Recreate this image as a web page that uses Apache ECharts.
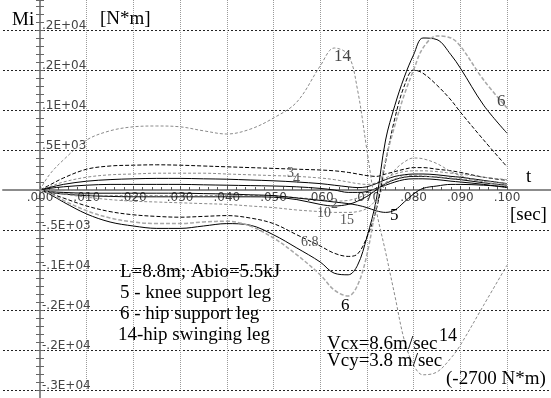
<!DOCTYPE html>
<html><head><meta charset="utf-8">
<script src="https://cdn.jsdelivr.net/npm/echarts@6/dist/echarts.min.js"></script>
<style>html,body{margin:0;padding:0;background:#fff}#c{width:551px;height:398px}</style>
</head><body><div id="c"></div>
<script>
// time samples [sec]
const tSec = [0,.002,.005,.01,.015,.02,.025,.03,.035,.04,.045,.05,.055,.06,.063,.066,.068,.07,.072,.074,.076,.078,.08,.082,.085,.088,.09,.095,.1];
// moments [N*m]
const m14 = [0,190,375,625,740,790,800,790,740,700,760,900,1100,1550,1775,1690,1250,500,-250,-775,-1325,-1875,-2190,-2310,-2275,-2100,-1940,-1440,-940];
const m6a = [0,-40,-130,-260,-350,-400,-420,-420,-400,-390,-450,-600,-810,-1060,-1250,-1325,-1190,-810,-190,375,810,1190,1500,1775,1925,1900,1800,1375,1025];
const m6b = [0,-50,-150,-300,-400,-450,-480,-480,-450,-420,-440,-560,-725,-900,-1040,-1060,-940,-590,-125,625,1060,1410,1690,1900,1880,1690,1525,1060,710];
const m8  = [0,-40,-100,-200,-270,-310,-330,-340,-330,-320,-350,-420,-560,-700,-790,-830,-800,-590,-250,350,900,1300,1500,1460,1310,1125,975,625,290];
const m15 = [0,-20,-50,-90,-120,-140,-150,-160,-170,-180,-200,-220,-250,-270,-280,-280,-270,-230,-120,80,250,350,400,390,330,230,180,100,50];
const m5  = [0,-20,-30,-40,-40,-40,-40,-40,-45,-50,-60,-70,-100,-130,-150,-170,-190,-220,-260,-280,-250,-150,-50,20,50,70,70,60,40];
const m1  = [0,60,150,260,300,310,315,310,300,290,280,270,260,250,240,220,200,180,170,200,230,260,280,280,260,240,220,160,120];
const m3  = [0,40,100,160,190,200,210,210,210,200,190,180,170,150,130,100,80,70,90,150,200,230,240,240,230,210,200,160,130];
const m4  = [0,30,70,110,130,140,145,145,140,135,125,115,100,80,60,40,30,40,80,130,170,190,200,200,190,170,160,120,80];
const m7  = [0,20,40,60,70,70,70,70,65,60,55,50,40,20,0,-30,-30,-20,20,60,100,130,140,140,130,110,100,70,30];
const m10 = [0,-30,-50,-70,-80,-85,-85,-85,-85,-85,-85,-90,-120,-180,-200,-180,-140,-80,0,80,130,160,170,170,160,140,130,90,60];
const m2  = [0,-20,-40,-60,-70,-70,-70,-70,-70,-70,-70,-75,-95,-120,-140,-130,-100,-50,20,90,140,170,180,175,165,150,140,110,80];
// tick labels
const xTickLabels = ['.000','.010','.020','.030','.040','.050','.060','.070','.080','.090','.100'];
const yTickValues = [2000,1500,1000,500,-500,-1000,-1500,-2000,-2500];
const yTickLabels = ['.2E+04','.2E+04','.1E+04','.5E+03','-.5E+03','-.1E+04','-.2E+04','-.2E+04','-.3E+04'];
const yMin = -2500, yMax = 2375;

const GRID_TOP = 0, GRID_BOTTOM = 8, H = 398;
const plotH = H - GRID_TOP - GRID_BOTTOM;
const zeroOffset = -plotH * (0 - yMin) / (yMax - yMin); // lift x axis to the zero line

const BLACK = '#000', GRAY = '#8a8a8a', LGRAY = '#a8a8a8';
function ser(arr, color, type, width) {
  return {type:'line', xAxisIndex:0, yAxisIndex:0, symbol:'none', smooth:0.35,
    data: tSec.map((t,i)=>[t, arr[i]]),
    lineStyle:{color:color, width:width||1, type:type||'solid'}, silent:true, animation:false};
}
const serif = '"Liberation Serif", "Times New Roman", serif';
function txt(s, x, y, size, color) {
  return {type:'text', z:100, style:{text:s, x:x, y:y, font: size+'px '+serif, fill:color||'#000', verticalAlign:'middle', align:'left'}};
}
const chart = echarts.init(document.getElementById('c'), null, {renderer:'canvas'});
chart.setOption({
  animation:false,
  grid:[
    {left:40, right:44, top:GRID_TOP, bottom:GRID_BOTTOM},
    {left:3, right:0, top:GRID_TOP, bottom:GRID_BOTTOM}
  ],
  xAxis:[
    {gridIndex:0, type:'value', min:0, max:0.1, interval:0.01, position:'bottom', offset:zeroOffset,
     axisLine:{show:false, onZero:false},
     axisTick:{show:true, inside:true, length:4, lineStyle:{color:'#555'}},
     minorTick:{show:true, splitNumber:5, length:3, lineStyle:{color:'#555'}},
     axisLabel:{margin:2, fontSize:12, fontFamily:'DejaVu Sans', color:'#444',
       formatter:v=>xTickLabels[Math.round(v*100)]||''},
     splitLine:{show:true, lineStyle:{color:'#9a9a9a', type:[1,1], width:1}}},
    {gridIndex:1, type:'value', min:0, max:1,
     axisLine:{show:true, onZero:true, lineStyle:{color:'#8c8c8c', width:2}},
     axisTick:{show:false}, axisLabel:{show:false}, splitLine:{show:false}}
  ],
  yAxis:[
    {gridIndex:0, type:'value', min:yMin, max:yMax, interval:500, position:'left',
     axisLine:{show:true, onZero:false, lineStyle:{color:'#8c8c8c', width:2}},
     axisTick:{show:true, inside:false, length:4, lineStyle:{color:'#666'}},
     minorTick:{show:true, splitNumber:5, length:4, lineStyle:{color:'#666'}},
     axisLabel:{inside:true, margin:2, fontSize:12, fontFamily:'DejaVu Sans', color:'#444',
       verticalAlign:'bottom', lineHeight:9,
       formatter:v=>{const i=yTickValues.indexOf(v); return i<0?'':yTickLabels[i];}},
     splitLine:{show:false}},
    {gridIndex:0, type:'value', min:yMin, max:yMax, interval:500, position:'left',
     axisLine:{show:false, onZero:false},
     axisTick:{show:true, inside:true, length:4, lineStyle:{color:'#666'}},
     minorTick:{show:true, splitNumber:5, length:4, lineStyle:{color:'#666'}},
     axisLabel:{show:false}, splitLine:{show:false}},
    {gridIndex:1, type:'value', min:yMin, max:yMax, interval:500,
     axisLine:{show:false, onZero:false}, axisTick:{show:false}, axisLabel:{show:false},
     splitLine:{show:true, showMaxLine:false, lineStyle:{color:'#222', type:[2,2], width:1}}}
  ],
  series:[
    ser(m1, BLACK, [4,2]),
    ser(m3, GRAY, [3,2]),
    ser(m4, BLACK, 'solid'),
    ser(m7, BLACK, 'solid'),
    ser(m10, BLACK, 'solid'),
    ser(m2, GRAY, [3,2]),
    ser(m5, BLACK, 'solid'),
    ser(m15, GRAY, [3,2]),
    ser(m8, BLACK, [4,2]),
    ser(m6b, BLACK, 'solid'),
    ser(m6a, LGRAY, [4,2], 1.5),
    ser(m14, GRAY, [3,2])
  ],
  graphic:[
    {type:'line', shape:{x1:40,y1:389,x2:40,y2:398}, style:{stroke:'#8c8c8c', lineWidth:2}},
    txt('Mi', 12, 20, 19),
    txt('[N*m]', 100, 19, 19),
    txt('t', 526, 177, 19),
    txt('[sec]', 510, 215, 19),
    txt('L=8.8m; Abio=5.5kJ', 120, 272, 19),
    txt('5 - knee support leg', 120, 293, 19),
    txt('6 - hip support leg', 120, 314, 19),
    txt('14-hip swinging leg', 118, 335, 19),
    txt('Vcx=8.6m/sec', 327, 344, 19),
    txt('14', 439, 336, 18),
    txt('Vcy=3.8 m/sec', 327, 361, 19),
    txt('(-2700 N*m)', 446, 379, 19),
    txt('14', 334, 57, 17, '#444'),
    txt('6', 497, 102, 17, '#444'),
    txt('6', 341, 306, 17),
    txt('5', 390, 216, 17),
    txt('15', 340, 220, 14, '#555'),
    txt('10', 317, 213, 14, '#555'),
    txt('2', 331, 204, 14, '#555'),
    txt('3', 287, 173, 14, '#555'),
    txt('4', 293, 179, 14, '#555'),
    txt('6.8', 301, 242, 14, '#555')
  ]
});
</script></body></html>
